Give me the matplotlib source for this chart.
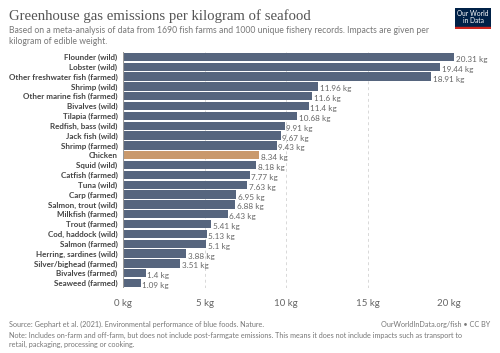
import numpy as np
import matplotlib.pyplot as plt
from matplotlib.patches import Rectangle

plt.rcParams['font.family'] = ['Lato', 'DejaVu Sans']

# data
foods = ['Flounder (wild)', 'Lobster (wild)', 'Other freshwater fish (farmed)', 'Shrimp (wild)',
         'Other marine fish (farmed)', 'Bivalves (wild)', 'Tilapia (farmed)', 'Redfish, bass (wild)',
         'Jack fish (wild)', 'Shrimp (farmed)', 'Chicken', 'Squid (wild)', 'Catfish (farmed)',
         'Tuna (wild)', 'Carp (farmed)', 'Salmon, trout (wild)', 'Milkfish (farmed)', 'Trout (farmed)',
         'Cod, haddock (wild)', 'Salmon (farmed)', 'Herring, sardines (wild)', 'Silver/bighead (farmed)',
         'Bivalves (farmed)', 'Seaweed (farmed)']
values = [20.31, 19.44, 18.91, 11.96, 11.6, 11.4, 10.68, 9.91, 9.67, 9.43, 8.34, 8.18, 7.77,
          7.63, 6.95, 6.88, 6.43, 5.41, 5.13, 5.1, 3.88, 3.51, 1.4, 1.09]
value_labels = ['20.31 kg', '19.44 kg', '18.91 kg', '11.96 kg', '11.6 kg', '11.4 kg', '10.68 kg',
                '9.91 kg', '9.67 kg', '9.43 kg', '8.34 kg', '8.18 kg', '7.77 kg', '7.63 kg', '6.95 kg',
                '6.88 kg', '6.43 kg', '5.41 kg', '5.13 kg', '5.1 kg', '3.88 kg', '3.51 kg', '1.4 kg',
                '1.09 kg']
xticks = [0, 5, 10, 15, 20]
xtick_labels = ['0 kg', '5 kg', '10 kg', '15 kg', '20 kg']

W, H = 500, 353
fig = plt.figure(figsize=(W / 100, H / 100), dpi=100)

# axes in pixel coords: left 123, right 449, top 52, bottom 288
ax = fig.add_axes([123 / W, 1 - 288 / H, (449 - 123) / W, (288 - 52) / H])

colors = ['#c9996c' if f == 'Chicken' else '#56657e' for f in foods]
y = np.arange(len(foods))
ax.barh(y, values, height=0.84, color=colors, clip_on=False, zorder=3)
ax.set_ylim(len(foods) - 0.5, -0.5)
ax.set_xlim(0, 20)

for yi, v, lab in zip(y, values, value_labels):
    ax.text(v + 0.1, yi + 0.25, lab, fontsize=5.9, color='#666666', va='center', ha='left', clip_on=False)

ax.set_yticks(y)
ax.set_yticklabels(foods, fontsize=5.8, color='#444444', fontweight='bold')
ax.tick_params(axis='y', length=0, pad=4)

ax.set_xticks(xticks)
ax.set_xticklabels(xtick_labels, fontsize=7, color='#666666')
ax.tick_params(axis='x', length=0, pad=8)

for x in xticks[1:]:
    ax.axvline(x, color='#d8d8d8', linestyle=(0, (3, 3)), linewidth=0.7, zorder=1)
ax.axvline(0, color='#999999', linewidth=0.8, zorder=4)

for s in ax.spines.values():
    s.set_visible(False)

# title / subtitle
fig.text(9 / W, 1 - 16 / H, 'Greenhouse gas emissions per kilogram of seafood',
         fontsize=10.6, family='Liberation Serif', color='#555555', va='center')
fig.text(9 / W, 1 - 36 / H,
         'Based on a meta-analysis of data from 1690 fish farms and 1000 unique fishery records. Impacts are given per\nkilogram of edible weight.',
         fontsize=6.2, color='#777777', va='center', linespacing=1.3)

# logo
logo = fig.add_axes([455 / W, 1 - 29 / H, 36 / W, 21 / H])
logo.set_xlim(0, 1)
logo.set_ylim(0, 1)
logo.axis('off')
logo.add_patch(Rectangle((0, 0), 1, 1, color='#002147'))
logo.add_patch(Rectangle((0, 0), 1, 0.1, color='#ce261e'))
logo.text(0.5, 0.57, 'Our World\nin Data', color='white', fontsize=4.8, ha='center', va='center',
          linespacing=1.1)

# footer
fig.text(9 / W, 1 - 324 / H, 'Source: Gephart et al. (2021). Environmental performance of blue foods. Nature.',
         fontsize=5.2, color='#777777', va='center')
fig.text(490 / W, 1 - 324 / H, 'OurWorldInData.org/fish • CC BY', fontsize=5.2, color='#777777',
         va='center', ha='right')
fig.text(9 / W, 1 - 340 / H,
         'Note: Includes on-farm and off-farm, but does not include post-farmgate emissions. This means it does not include impacts such as transport to\nretail, packaging, processing or cooking.',
         fontsize=5.2, color='#777777', va='center', linespacing=1.35)

fig.savefig('out.png', dpi=100, facecolor='white')
